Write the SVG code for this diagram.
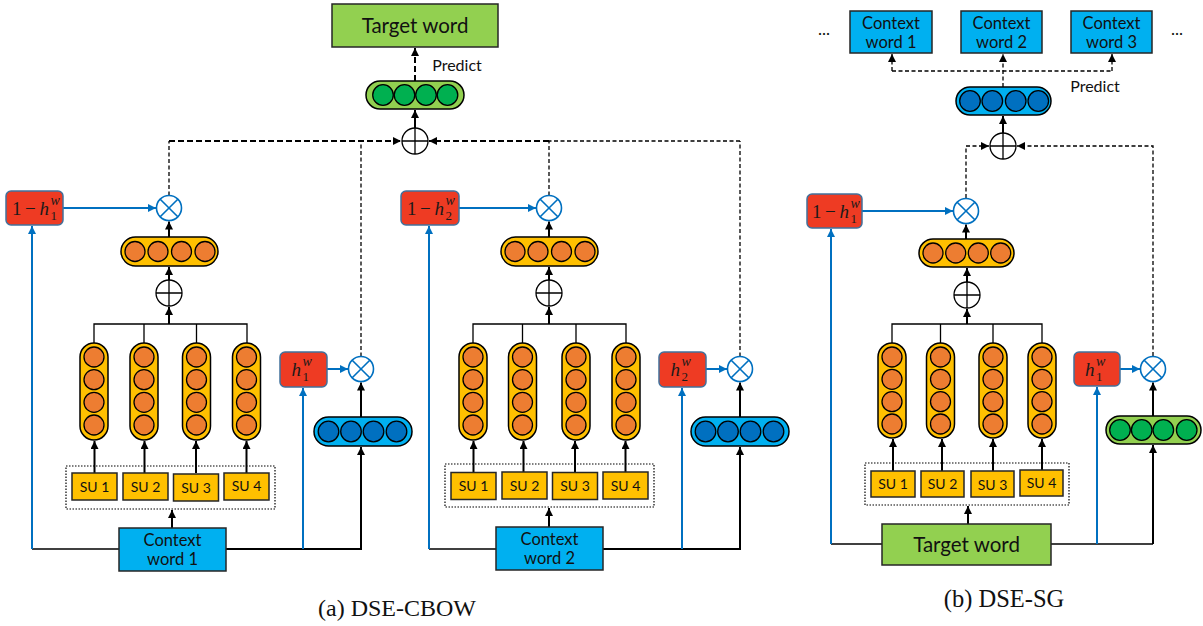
<svg xmlns="http://www.w3.org/2000/svg" width="1203" height="626" viewBox="0 0 1203 626">
<defs>
<marker id="ab" markerUnits="userSpaceOnUse" markerWidth="9" markerHeight="9" refX="8" refY="4" orient="auto"><path d="M0,0 L8,4 L0,8 z" fill="#000"/></marker>
<marker id="au" markerUnits="userSpaceOnUse" markerWidth="9" markerHeight="9" refX="8" refY="4" orient="auto"><path d="M0,0 L8,4 L0,8 z" fill="#0070C0"/></marker>
<style>
.blk{stroke:#000;stroke-width:2;fill:none}
.thin{stroke:#000;stroke-width:1.3;fill:none}
.blu{stroke:#0070C0;stroke-width:2;fill:none}
.dt{stroke:#000;stroke-width:1.3;stroke-dasharray:4 2.5;fill:none}
.dT{stroke:#000;stroke-width:2;stroke-dasharray:6 3;fill:none}
.dot{stroke:#000;stroke-width:1.2;stroke-dasharray:1.5 1.5;fill:none}
.red{fill:#EE3B23;stroke:#41719C;stroke-width:1.5}
.op{fill:#FFC000;stroke:#000;stroke-width:1.5}
.oc{fill:#ED7D31;stroke:#000;stroke-width:1.3}
.bp{fill:#00B0F0;stroke:#000;stroke-width:1.5}
.bc{fill:#0070C0;stroke:#000;stroke-width:1.3}
.gp{fill:#92D050;stroke:#000;stroke-width:1.5}
.gc{fill:#00B050;stroke:#000;stroke-width:1.3}
.su{fill:#FFC000;stroke:#262626;stroke-width:1.5}
.cw{fill:#00B0F0;stroke:#262626;stroke-width:1.5}
.tw{fill:#92D050;stroke:#262626;stroke-width:1.5}
.mul circle{fill:#fff;stroke:#0070C0;stroke-width:1.6}
.mul path{stroke:#0070C0;stroke-width:1.6;fill:none}
.add circle{fill:#fff;stroke:#000;stroke-width:1.3}
.add path{stroke:#000;stroke-width:1.3;fill:none}
.t{font-family:Lato,'Open Sans','Liberation Sans',sans-serif;fill:#111;text-anchor:middle}
.m{font-family:'Liberation Serif','DejaVu Serif',serif;fill:#1a1a1a}
.s{font-size:13px}
.cap{font-family:'Liberation Serif','Times New Roman',serif;fill:#111;text-anchor:middle}
</style>
</defs>

<g id="connectors">
<path class="dT" d="M415,81 V48" marker-end="url(#ab)"/>
<path class="blk" d="M415,128 V110" marker-end="url(#ab)"/>
<path class="dT" d="M169,141 H401" marker-end="url(#ab)"/>
<path class="dT" d="M549,141 H429" marker-end="url(#ab)"/>
<path class="dt" d="M740,141 H549"/>
<path class="dt" d="M169,195.5 V141"/>
<path class="dt" d="M361,356.5 V141"/>
<path class="blu" d="M63,208 H156" marker-end="url(#au)"/>
<path class="blk" d="M169,237 V221.5" marker-end="url(#ab)"/>
<path class="blk" d="M169,280 V267" marker-end="url(#ab)"/>
<path class="thin" d="M94,343 V324 H247 V343 M144,324 V343 M196.5,324 V343"/>
<path class="blk" d="M169,324 V307" marker-end="url(#ab)"/>
<path class="blk" d="M94.5,473 V441" marker-end="url(#ab)"/>
<path class="blk" d="M144.5,473 V441" marker-end="url(#ab)"/>
<path class="blk" d="M196,473 V441" marker-end="url(#ab)"/>
<path class="blk" d="M246.5,473 V441" marker-end="url(#ab)"/>
<path class="blk" d="M172,528 V510" marker-end="url(#ab)"/>
<path class="thin" d="M119,549 H32"/>
<path class="blu" d="M32,549 V226" marker-end="url(#au)"/>
<path class="blk" d="M226,549 H361 V447" marker-end="url(#ab)"/>
<path class="blu" d="M303,549 V388" marker-end="url(#au)"/>
<path class="blk" d="M361,417 V382.5" marker-end="url(#ab)"/>
<path class="blu" d="M327,369 H348" marker-end="url(#au)"/>
<path class="dt" d="M549,195.5 V141"/>
<path class="dt" d="M740,356.5 V141"/>
<path class="blu" d="M459,208 H536" marker-end="url(#au)"/>
<path class="blk" d="M549,237 V221.5" marker-end="url(#ab)"/>
<path class="blk" d="M549,280 V267" marker-end="url(#ab)"/>
<path class="thin" d="M473,343 V324 H626 V343 M522.5,324 V343 M576,324 V343"/>
<path class="blk" d="M549,324 V307" marker-end="url(#ab)"/>
<path class="blk" d="M473.5,472 V441" marker-end="url(#ab)"/>
<path class="blk" d="M523.5,472 V441" marker-end="url(#ab)"/>
<path class="blk" d="M575,472 V441" marker-end="url(#ab)"/>
<path class="blk" d="M625.5,472 V441" marker-end="url(#ab)"/>
<path class="blk" d="M549,527 V508" marker-end="url(#ab)"/>
<path class="thin" d="M496,549 H429"/>
<path class="blu" d="M429,549 V226" marker-end="url(#au)"/>
<path class="blk" d="M603,549 H740 V447" marker-end="url(#ab)"/>
<path class="blu" d="M682,549 V388" marker-end="url(#au)"/>
<path class="blk" d="M740,417 V382.5" marker-end="url(#ab)"/>
<path class="blu" d="M706,369 H727" marker-end="url(#au)"/>
<path class="dt" d="M1003,87 V54" marker-end="url(#ab)"/>
<path class="dt" d="M892,71 H1112"/>
<path class="dt" d="M892,71 V54" marker-end="url(#ab)"/>
<path class="dt" d="M1112,71 V54" marker-end="url(#ab)"/>
<path class="blk" d="M1003,133 V116" marker-end="url(#ab)"/>
<path class="dt" d="M966,198 V146 H989" marker-end="url(#ab)"/>
<path class="dt" d="M1153,356 V146 H1017" marker-end="url(#ab)"/>
<path class="blu" d="M862,211 H953" marker-end="url(#au)"/>
<path class="blk" d="M966,239 V224.5" marker-end="url(#ab)"/>
<path class="blk" d="M967,282 V268" marker-end="url(#ab)"/>
<path class="thin" d="M892,343 V324 H1042 V343 M940.5,324 V343 M993,324 V343"/>
<path class="blk" d="M967,324 V309" marker-end="url(#ab)"/>
<path class="blk" d="M893,471 V439" marker-end="url(#ab)"/>
<path class="blk" d="M942,471 V439" marker-end="url(#ab)"/>
<path class="blk" d="M993,471 V439" marker-end="url(#ab)"/>
<path class="blk" d="M1042,471 V439" marker-end="url(#ab)"/>
<path class="blk" d="M968,524 V506" marker-end="url(#ab)"/>
<path class="thin" d="M882,544 H831"/>
<path class="blu" d="M831,544 V229" marker-end="url(#au)"/>
<path class="thin" d="M1051,544 H1153"/>
<path class="blk" d="M1153,544 V445" marker-end="url(#ab)"/>
<path class="blu" d="M1097,544 V387" marker-end="url(#au)"/>
<path class="blk" d="M1153,416 V382.5" marker-end="url(#ab)"/>
<path class="blu" d="M1120,369 H1140" marker-end="url(#au)"/>
</g>

<g id="a-target"><rect class="tw" x="332" y="4" width="166" height="43"/><text class="t" x="415" y="33" font-size="20.5">Target word</text></g>
<text id="a-predict" class="t" x="457" y="70.5" font-size="16">Predict</text>
<g id="a-outvec"><rect class="gp" x="366" y="81" width="98" height="28" rx="14"/><circle class="gc" cx="383" cy="95" r="10.3"/><circle class="gc" cx="404.5" cy="95" r="10.3"/><circle class="gc" cx="426" cy="95" r="10.3"/><circle class="gc" cx="447.5" cy="95" r="10.3"/></g>
<g id="a-sum" class="add"><circle cx="415" cy="141" r="13"/><path d="M402,141 H428 M415,128 V154"/></g>

<g id="a1-gate-inv"><rect class="red" x="6" y="191" width="57" height="34" rx="5"/><text class="m" x="12" y="215" font-size="19">1</text><text class="m" x="25" y="215" font-size="19">−</text><text class="m" x="39.5" y="215" font-size="19" font-style="italic">h</text><text class="m" x="50.5" y="219.5" font-size="13">1</text><text class="m" x="50.5" y="205" font-size="14" font-style="italic">w</text></g>
<g id="a1-mul1" class="mul"><circle cx="169" cy="208" r="12.5"/><path d="M160.2,199.2 L177.8,216.8 M177.8,199.2 L160.2,216.8"/></g>
<g id="a1-vec"><rect class="op" x="121" y="237" width="97" height="29" rx="14.5"/><circle class="oc" cx="135" cy="251.5" r="10"/><circle class="oc" cx="158" cy="251.5" r="10"/><circle class="oc" cx="181.5" cy="251.5" r="10"/><circle class="oc" cx="205" cy="251.5" r="10"/></g>
<g id="a1-sum" class="add"><circle cx="169" cy="293" r="13"/><path d="M156,293 H182 M169,280 V306"/></g>
<g id="a1-su1vec"><rect class="op" x="80" y="343" width="28" height="97" rx="14"/><circle class="oc" cx="94" cy="357" r="10"/><circle class="oc" cx="94" cy="379.7" r="10"/><circle class="oc" cx="94" cy="402.3" r="10"/><circle class="oc" cx="94" cy="425" r="10"/></g>
<g id="a1-su2vec"><rect class="op" x="130" y="343" width="28" height="97" rx="14"/><circle class="oc" cx="144" cy="357" r="10"/><circle class="oc" cx="144" cy="379.7" r="10"/><circle class="oc" cx="144" cy="402.3" r="10"/><circle class="oc" cx="144" cy="425" r="10"/></g>
<g id="a1-su3vec"><rect class="op" x="182.5" y="343" width="28" height="97" rx="14"/><circle class="oc" cx="196.5" cy="357" r="10"/><circle class="oc" cx="196.5" cy="379.7" r="10"/><circle class="oc" cx="196.5" cy="402.3" r="10"/><circle class="oc" cx="196.5" cy="425" r="10"/></g>
<g id="a1-su4vec"><rect class="op" x="232.5" y="343" width="28" height="97" rx="14"/><circle class="oc" cx="246.5" cy="357" r="10"/><circle class="oc" cx="246.5" cy="379.7" r="10"/><circle class="oc" cx="246.5" cy="402.3" r="10"/><circle class="oc" cx="246.5" cy="425" r="10"/></g>
<g id="a1-sus"><rect class="dot" x="66" y="466" width="209" height="43"/>
<rect class="su" x="72" y="473" width="45" height="27"/><text class="t" x="94.5" y="491.5" font-size="14">SU 1</text>
<rect class="su" x="123" y="473" width="45" height="27"/><text class="t" x="145.5" y="491.5" font-size="14">SU 2</text>
<rect class="su" x="173.5" y="474" width="45" height="27"/><text class="t" x="196" y="492.5" font-size="14">SU 3</text>
<rect class="su" x="224" y="473" width="45" height="27"/><text class="t" x="246.5" y="491" font-size="14">SU 4</text></g>
<g id="a1-context"><rect class="cw" x="119" y="528" width="107" height="43"/><text class="t" x="172.5" y="546" font-size="16.5">Context</text><text class="t" x="172.5" y="565" font-size="16.5">word 1</text></g>
<g id="a1-wordvec"><rect class="bp" x="314" y="417" width="98" height="29" rx="14.5"/><circle class="bc" cx="328.5" cy="431.5" r="10.3"/><circle class="bc" cx="351" cy="431.5" r="10.3"/><circle class="bc" cx="373.5" cy="431.5" r="10.3"/><circle class="bc" cx="396.5" cy="431.5" r="10.3"/></g>
<g id="a1-gate"><rect class="red" x="280" y="352" width="47" height="35" rx="5"/><text class="m" x="291.5" y="376" font-size="19" font-style="italic">h</text><text class="m" x="302.5" y="380.5" font-size="13">1</text><text class="m" x="302.5" y="366" font-size="14" font-style="italic">w</text></g>
<g id="a1-mul2" class="mul"><circle cx="361" cy="369" r="12.5"/><path d="M352.2,360.2 L369.8,377.8 M369.8,360.2 L352.2,377.8"/></g>

<g id="a2-gate-inv"><rect class="red" x="401" y="191" width="58" height="34" rx="5"/><text class="m" x="407" y="215" font-size="19">1</text><text class="m" x="420" y="215" font-size="19">−</text><text class="m" x="434.5" y="215" font-size="19" font-style="italic">h</text><text class="m" x="445.5" y="219.5" font-size="13">2</text><text class="m" x="445.5" y="205" font-size="14" font-style="italic">w</text></g>
<g id="a2-mul1" class="mul"><circle cx="549" cy="208" r="12.5"/><path d="M540.2,199.2 L557.8,216.8 M557.8,199.2 L540.2,216.8"/></g>
<g id="a2-vec"><rect class="op" x="501" y="237" width="97" height="29" rx="14.5"/><circle class="oc" cx="515" cy="251.5" r="10"/><circle class="oc" cx="538" cy="251.5" r="10"/><circle class="oc" cx="561.5" cy="251.5" r="10"/><circle class="oc" cx="585" cy="251.5" r="10"/></g>
<g id="a2-sum" class="add"><circle cx="549" cy="293" r="13"/><path d="M536,293 H562 M549,280 V306"/></g>
<g id="a2-su1vec"><rect class="op" x="459" y="343" width="28" height="97" rx="14"/><circle class="oc" cx="473" cy="357" r="10"/><circle class="oc" cx="473" cy="379.7" r="10"/><circle class="oc" cx="473" cy="402.3" r="10"/><circle class="oc" cx="473" cy="425" r="10"/></g>
<g id="a2-su2vec"><rect class="op" x="508.5" y="343" width="28" height="97" rx="14"/><circle class="oc" cx="522.5" cy="357" r="10"/><circle class="oc" cx="522.5" cy="379.7" r="10"/><circle class="oc" cx="522.5" cy="402.3" r="10"/><circle class="oc" cx="522.5" cy="425" r="10"/></g>
<g id="a2-su3vec"><rect class="op" x="562" y="343" width="28" height="97" rx="14"/><circle class="oc" cx="576" cy="357" r="10"/><circle class="oc" cx="576" cy="379.7" r="10"/><circle class="oc" cx="576" cy="402.3" r="10"/><circle class="oc" cx="576" cy="425" r="10"/></g>
<g id="a2-su4vec"><rect class="op" x="612" y="343" width="28" height="97" rx="14"/><circle class="oc" cx="626" cy="357" r="10"/><circle class="oc" cx="626" cy="379.7" r="10"/><circle class="oc" cx="626" cy="402.3" r="10"/><circle class="oc" cx="626" cy="425" r="10"/></g>
<g id="a2-sus"><rect class="dot" x="445" y="464" width="209" height="43"/>
<rect class="su" x="451" y="472.5" width="45" height="27"/><text class="t" x="473.5" y="491" font-size="14">SU 1</text>
<rect class="su" x="502" y="472" width="45" height="27"/><text class="t" x="524.5" y="490.5" font-size="14">SU 2</text>
<rect class="su" x="552.5" y="472.5" width="45" height="27"/><text class="t" x="575" y="491" font-size="14">SU 3</text>
<rect class="su" x="603" y="472" width="45" height="27"/><text class="t" x="625.5" y="490.5" font-size="14">SU 4</text></g>
<g id="a2-context"><rect class="cw" x="496" y="527" width="107" height="43"/><text class="t" x="549.5" y="545" font-size="16.5">Context</text><text class="t" x="549.5" y="564" font-size="16.5">word 2</text></g>
<g id="a2-wordvec"><rect class="bp" x="691" y="417" width="98" height="29" rx="14.5"/><circle class="bc" cx="705.5" cy="431.5" r="10.3"/><circle class="bc" cx="728" cy="431.5" r="10.3"/><circle class="bc" cx="750.5" cy="431.5" r="10.3"/><circle class="bc" cx="773.5" cy="431.5" r="10.3"/></g>
<g id="a2-gate"><rect class="red" x="659" y="352" width="47" height="35" rx="5"/><text class="m" x="670.5" y="376" font-size="19" font-style="italic">h</text><text class="m" x="681.5" y="380.5" font-size="13">2</text><text class="m" x="681.5" y="366" font-size="14" font-style="italic">w</text></g>
<g id="a2-mul2" class="mul"><circle cx="740" cy="369" r="12.5"/><path d="M731.2,360.2 L748.8,377.8 M748.8,360.2 L731.2,377.8"/></g>

<text id="cap-a" class="cap" x="397" y="616" font-size="24">(a) DSE-CBOW</text>

<text id="b-dots-l" class="t" x="824" y="35" font-size="17">...</text>
<text id="b-dots-r" class="t" x="1177" y="35" font-size="17">...</text>
<g id="b-cw1"><rect class="cw" x="850" y="11" width="82" height="42"/><text class="t" x="891" y="29" font-size="16.5">Context</text><text class="t" x="891" y="47.5" font-size="16.5">word 1</text></g>
<g id="b-cw2"><rect class="cw" x="961" y="11" width="81" height="42"/><text class="t" x="1001.5" y="29" font-size="16.5">Context</text><text class="t" x="1001.5" y="47.5" font-size="16.5">word 2</text></g>
<g id="b-cw3"><rect class="cw" x="1071" y="11" width="81" height="42"/><text class="t" x="1111.5" y="29" font-size="16.5">Context</text><text class="t" x="1111.5" y="47.5" font-size="16.5">word 3</text></g>
<text id="b-predict" class="t" x="1095" y="91.5" font-size="16">Predict</text>
<g id="b-outvec"><rect class="bp" x="956" y="87" width="95" height="28" rx="14"/><circle class="bc" cx="970" cy="101" r="10.3"/><circle class="bc" cx="992.3" cy="101" r="10.3"/><circle class="bc" cx="1015.7" cy="101" r="10.3"/><circle class="bc" cx="1038.3" cy="101" r="10.3"/></g>
<g id="b-sum" class="add"><circle cx="1003" cy="146" r="13"/><path d="M990,146 H1016 M1003,133 V159"/></g>
<g id="b-gate-inv"><rect class="red" x="807" y="194" width="55" height="34" rx="5"/><text class="m" x="812" y="218" font-size="19">1</text><text class="m" x="825" y="218" font-size="19">−</text><text class="m" x="839.5" y="218" font-size="19" font-style="italic">h</text><text class="m" x="850.5" y="222.5" font-size="13">1</text><text class="m" x="850.5" y="208" font-size="14" font-style="italic">w</text></g>
<g id="b-mul1" class="mul"><circle cx="966" cy="211" r="12.5"/><path d="M957.2,202.2 L974.8,219.8 M974.8,202.2 L957.2,219.8"/></g>
<g id="b-vec"><rect class="op" x="919" y="239" width="95" height="28" rx="14"/><circle class="oc" cx="933" cy="253" r="10"/><circle class="oc" cx="955.7" cy="253" r="10"/><circle class="oc" cx="978.3" cy="253" r="10"/><circle class="oc" cx="1000.7" cy="253" r="10"/></g>
<g id="b-sum2" class="add"><circle cx="967" cy="295" r="13"/><path d="M954,295 H980 M967,282 V308"/></g>
<g id="b-su1vec"><rect class="op" x="878" y="343" width="28" height="95" rx="14"/><circle class="oc" cx="892" cy="357" r="10"/><circle class="oc" cx="892" cy="379.3" r="10"/><circle class="oc" cx="892" cy="401.7" r="10"/><circle class="oc" cx="892" cy="424" r="10"/></g>
<g id="b-su2vec"><rect class="op" x="926.5" y="343" width="28" height="95" rx="14"/><circle class="oc" cx="940.5" cy="357" r="10"/><circle class="oc" cx="940.5" cy="379.3" r="10"/><circle class="oc" cx="940.5" cy="401.7" r="10"/><circle class="oc" cx="940.5" cy="424" r="10"/></g>
<g id="b-su3vec"><rect class="op" x="979" y="343" width="28" height="95" rx="14"/><circle class="oc" cx="993" cy="357" r="10"/><circle class="oc" cx="993" cy="379.3" r="10"/><circle class="oc" cx="993" cy="401.7" r="10"/><circle class="oc" cx="993" cy="424" r="10"/></g>
<g id="b-su4vec"><rect class="op" x="1028" y="343" width="28" height="95" rx="14"/><circle class="oc" cx="1042" cy="357" r="10"/><circle class="oc" cx="1042" cy="379.3" r="10"/><circle class="oc" cx="1042" cy="401.7" r="10"/><circle class="oc" cx="1042" cy="424" r="10"/></g>
<g id="b-sus"><rect class="dot" x="865" y="463" width="204" height="42"/>
<rect class="su" x="871" y="471" width="44" height="26"/><text class="t" x="893" y="489" font-size="14">SU 1</text>
<rect class="su" x="921" y="471" width="43" height="26"/><text class="t" x="942.5" y="489" font-size="14">SU 2</text>
<rect class="su" x="971" y="471" width="43" height="26"/><text class="t" x="992.5" y="490" font-size="14">SU 3</text>
<rect class="su" x="1020" y="470" width="43" height="26"/><text class="t" x="1041.5" y="488" font-size="14">SU 4</text></g>
<g id="b-target"><rect class="tw" x="882" y="524" width="169" height="41"/><text class="t" x="966.5" y="552" font-size="20.5">Target word</text></g>
<g id="b-wordvec"><rect class="gp" x="1106" y="416" width="95" height="28" rx="14"/><circle class="gc" cx="1120" cy="430" r="10.3"/><circle class="gc" cx="1141.7" cy="430" r="10.3"/><circle class="gc" cx="1163.3" cy="430" r="10.3"/><circle class="gc" cx="1186.7" cy="430" r="10.3"/></g>
<g id="b-gate"><rect class="red" x="1074" y="352" width="46" height="34" rx="5"/><text class="m" x="1085" y="376" font-size="19" font-style="italic">h</text><text class="m" x="1096" y="380.5" font-size="13">1</text><text class="m" x="1096" y="366" font-size="14" font-style="italic">w</text></g>
<g id="b-mul2" class="mul"><circle cx="1153" cy="369" r="12.5"/><path d="M1144.2,360.2 L1161.8,377.8 M1161.8,360.2 L1144.2,377.8"/></g>

<text id="cap-b" class="cap" x="1004" y="607" font-size="24.5">(b) DSE-SG</text>
</svg>
